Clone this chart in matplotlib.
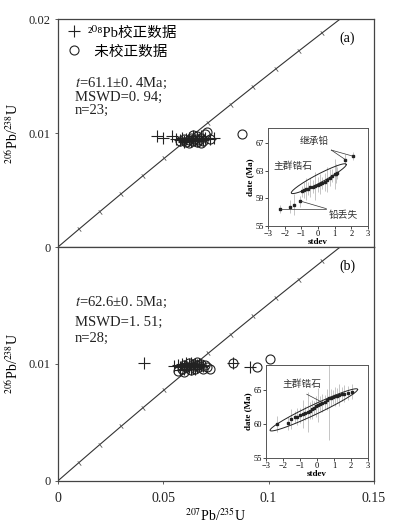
import numpy as np
import matplotlib
matplotlib.use("Agg")
import matplotlib.pyplot as plt

plt.rcParams['font.family'] = ['Liberation Serif', 'DejaVu Serif', 'Noto Sans CJK SC']
plt.rcParams['mathtext.fontset'] = 'stix'

# --- concordia ages (Ma) and decay constants
conc_ages = np.arange(0, 151, 10)
lam238 = 1.55125e-10
lam235 = 9.8485e-10

# --- panel (a): 207Pb/235U, 206Pb/238U
a_corr_x = [0.047, 0.050, 0.054, 0.056, 0.058, 0.059, 0.060, 0.061, 0.062, 0.062, 0.063, 0.064,
            0.064, 0.065, 0.066, 0.067, 0.068, 0.069, 0.070, 0.072, 0.074, 0.060, 0.066]
a_corr_y = [0.0097, 0.0096, 0.0097, 0.0095, 0.0094, 0.0096, 0.0093, 0.0095, 0.0094, 0.0096, 0.0093, 0.0095,
            0.0097, 0.0094, 0.0096, 0.0095, 0.0097, 0.0094, 0.0096, 0.0095, 0.0096, 0.0092, 0.0093]
a_raw_x = [0.058, 0.060, 0.061, 0.062, 0.063, 0.064, 0.065, 0.066, 0.066, 0.067, 0.068, 0.069,
           0.070, 0.071, 0.064, 0.062, 0.072, 0.068, 0.0873]
a_raw_y = [0.0093, 0.0095, 0.0092, 0.0094, 0.0096, 0.0093, 0.0095, 0.0092, 0.0097, 0.0094, 0.0096, 0.0093,
           0.0099, 0.0101, 0.0098, 0.0091, 0.0095, 0.0091, 0.0099]

# --- panel (b)
b_corr_x = [0.0408, 0.055, 0.057, 0.058, 0.059, 0.060, 0.060, 0.061, 0.062, 0.062, 0.063, 0.063, 0.064,
            0.064, 0.065, 0.065, 0.066, 0.066, 0.067, 0.067, 0.068, 0.058, 0.061, 0.063, 0.065, 0.069,
            0.083, 0.091]
b_corr_y = [0.0101, 0.0098, 0.0099, 0.0097, 0.0100, 0.0098, 0.0096, 0.0099, 0.0097, 0.0100, 0.0098, 0.0096,
            0.0099, 0.0097, 0.0100, 0.0098, 0.0099, 0.0097, 0.0100, 0.0098, 0.0099, 0.0095, 0.0101, 0.0101,
            0.0096, 0.0098, 0.0101, 0.0097]
b_raw_x = [0.057, 0.059, 0.060, 0.061, 0.062, 0.063, 0.064, 0.064, 0.065, 0.066, 0.067, 0.068, 0.069,
           0.070, 0.071, 0.072, 0.060, 0.066, 0.083, 0.0945, 0.1006]
b_raw_y = [0.0094, 0.0096, 0.0099, 0.0097, 0.0101, 0.0095, 0.0098, 0.0100, 0.0096, 0.0099, 0.0097, 0.0100,
           0.0096, 0.0099, 0.0097, 0.0096, 0.0093, 0.0102, 0.0101, 0.0097, 0.0104]

# --- inset (a): stdev vs date (Ma)
ia_x = [-2.27, -1.7, -1.45, -1.05,
        -0.98, -0.85, -0.72, -0.6, -0.45, -0.3, -0.15, -0.02, 0.12, 0.26, 0.4, 0.55, 0.7, 0.85, 1.0, 1.1, 1.16,
        1.65, 2.12]
ia_y = [57.5, 57.8, 58.1, 58.6,
        60.0, 60.2, 60.3, 60.4, 60.6, 60.7, 60.8, 61.0, 61.1, 61.2, 61.4, 61.7, 62.0, 62.3, 62.5, 62.6, 62.7,
        64.6, 65.1]
ia_err = [0.6, 1.0, 1.5, 0.8,
          0.8, 1.2, 1.6, 0.9, 1.4, 1.0, 2.0, 1.1, 1.5, 0.9, 1.3, 1.8, 1.2, 1.0, 2.2, 1.4, 0.9,
          0.8, 0.6]

# --- inset (b)
ib_x = [-2.33, -1.71, -1.5, -1.3, -1.15, -1.0, -0.85, -0.7, -0.55, -0.42, -0.3, -0.18, -0.05, 0.08, 0.2,
        0.32, 0.45, 0.58, 0.7, 0.82, 0.95, 1.08, 1.2, 1.32, 1.45, 1.6, 1.8, 2.08]
ib_y = [60.0, 60.1, 60.8, 61.0, 61.1, 61.3, 61.5, 61.6, 61.8, 62.0, 62.2, 62.4, 62.6, 62.8, 63.0,
        63.1, 63.3, 63.6, 63.8, 63.9, 64.0, 64.1, 64.2, 64.3, 64.4, 64.5, 64.6, 64.8]
ib_err = [1.2, 1.0, 1.5, 0.9, 1.3, 1.1, 2.0, 1.0, 3.0, 1.2, 1.4, 1.0, 1.6, 2.5, 1.1,
          1.3, 1.0, 1.5, 6.2, 1.2, 1.0, 1.4, 1.1, 1.6, 1.0, 1.2, 1.0, 1.1]

fig = plt.figure(figsize=(3.94, 5.29), dpi=100)
ax1 = fig.add_axes([0.147, 0.533, 0.802, 0.431])
ax2 = fig.add_axes([0.147, 0.091, 0.802, 0.442])

c206 = np.exp(lam238 * conc_ages * 1e6) - 1
c207 = np.exp(lam235 * conc_ages * 1e6) - 1

panels = [
    (ax1, a_corr_x, a_corr_y, a_raw_x, a_raw_y, "(a)",
     ["$t$=61.1\u00b10. 4Ma;", "MSWD=0. 94;", "n=23;"], [0.719, 0.658, 0.601]),
    (ax2, b_corr_x, b_corr_y, b_raw_x, b_raw_y, "(b)",
     ["$t$=62.6\u00b10. 5Ma;", "MSWD=1. 51;", "n=28;"], [0.761, 0.679, 0.611]),
]

for ax, cx, cy, rx, ry, tag, stats, sy in panels:
    ax.plot(c207, c206, color="#333333", lw=0.8, zorder=1)
    ax.plot(c207, c206, ls="none", marker=(2, 0, 39), ms=4, mew=0.6, color="#555555", zorder=1)
    ax.plot(cx, cy, ls="none", marker="+", ms=9, mew=0.8, color="#222222", label="\u00b2\u2070\u2078Pb校正数据")
    ax.plot(rx, ry, ls="none", marker="o", ms=6.5, mfc="none", mew=0.8, color="#222222", label="  未校正数据")
    ax.set_xlim(0, 0.15)
    ax.set_ylim(0, 0.02)
    ax.set_ylabel("$^{206}$Pb/$^{238}$U", fontsize=10, labelpad=5)
    ax.text(0.915, 0.917, tag, transform=ax.transAxes, fontsize=10, ha="center", va="center")
    for s, y in zip(stats, sy):
        ax.text(0.054, y, s, transform=ax.transAxes, fontsize=10.5, va="center", color="#222222")
    for sp in ax.spines.values():
        sp.set_color("#444444")
        sp.set_linewidth(0.9)
    ax.tick_params(direction="out", length=2, width=0.6, labelsize=9, colors="#444444", labelcolor="#222222")

ax1.legend(loc="upper left", frameon=False, fontsize=10.5, handletextpad=0.3, borderaxespad=0.3,
           labelspacing=0.4, handlelength=1.2, borderpad=0.2)
ax1.set_yticks([0, 0.01, 0.02])
ax1.set_yticklabels(["0", "0.01", "0.02"])
ax1.set_xticks([])
ax2.set_yticks([0, 0.01])
ax2.set_yticklabels(["0", "0.01"])
ax2.set_xticks([0, 0.05, 0.1, 0.15])
ax2.set_xticklabels(["0", "0.05", "0.1", "0.15"])
ax2.tick_params(axis="x", pad=6, labelsize=10)
ax2.set_xlabel("$^{207}$Pb/$^{235}$U", fontsize=10, labelpad=2)


def ellipse(ax, p1, p2, h):
    t = np.linspace(0, 2 * np.pi, 200)
    cx, cy = (p1[0] + p2[0]) / 2, (p1[1] + p2[1]) / 2
    ux, uy = (p2[0] - p1[0]) / 2, (p2[1] - p1[1]) / 2
    ax.plot(cx + ux * np.cos(t), cy + uy * np.cos(t) + h * np.sin(t), color="#222222", lw=0.7)


def inset(rect, xs, ys, errs, yticks, ylim):
    ia = fig.add_axes(rect)
    ia.errorbar(xs, ys, yerr=errs, fmt="none", ecolor="#bbbbbb", elinewidth=0.6)
    ia.plot(xs, ys, ls="none", marker="s", ms=1.8, color="#222222")
    ia.set_xlim(-3, 3)
    ia.set_ylim(*ylim)
    ia.set_xticks(range(-3, 4))
    ia.set_yticks(yticks)
    ia.tick_params(direction="out", length=2, width=0.5, labelsize=6, pad=1)
    ia.set_xlabel("stdev", fontsize=6.5, fontweight="bold", labelpad=0)
    ia.set_ylabel("date (Ma)", fontsize=6.5, fontweight="bold", labelpad=1)
    for sp in ia.spines.values():
        sp.set_color("#555555")
        sp.set_linewidth(0.7)
    return ia


ia = inset([0.680, 0.573, 0.254, 0.185], ia_x, ia_y, ia_err, [55, 59, 63, 67], (55, 69.2))
ellipse(ia, (-1.6, 59.8), (1.7, 63.9), 0.7)
ia.text(-0.2, 67.3, "继承铅", fontsize=7, ha="center", va="center", color="#333333")
ia.plot([0.8, 1.65], [66.0, 64.6], color="#333333", lw=0.5)
ia.plot([0.8, 2.12], [66.0, 65.1], color="#333333", lw=0.5)
ia.text(-1.5, 63.6, "主群锆石", fontsize=7, ha="center", va="center", color="#333333")
ia.text(1.5, 56.5, "铅丢失", fontsize=7, ha="center", va="center", color="#333333")
ia.plot([0.5, -2.27], [57.5, 57.5], color="#333333", lw=0.5)
ia.plot([0.5, -1.05], [57.5, 58.6], color="#333333", lw=0.5)

ib = inset([0.675, 0.134, 0.259, 0.176], ib_x, ib_y, ib_err, [55, 60, 65], (55, 68.7))
ellipse(ib, (-2.76, 59.1), (2.39, 65.1), 0.8)
ib.text(-0.86, 65.8, "主群锆石", fontsize=7, ha="center", va="center", color="#333333")
ib.plot([-0.6, 0.24], [64.4, 63.3], color="#333333", lw=0.5)

fig.savefig("out.png", dpi=100, facecolor="white")
